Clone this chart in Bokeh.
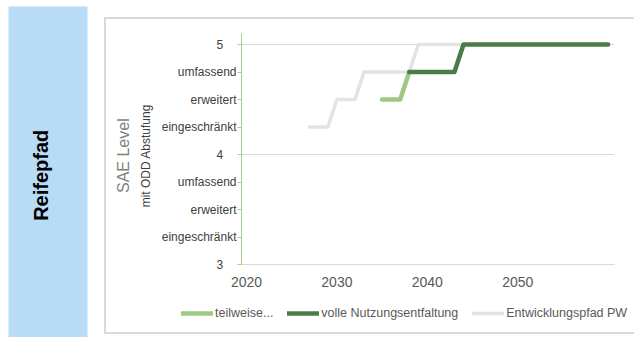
import math
from bokeh.plotting import figure
from bokeh.layouts import row, column
from bokeh.models import (FixedTicker, LinearAxis, Range1d, Legend, LegendItem, Spacer)
from bokeh.core.properties import value
from bokeh.embed import file_html
from bokeh.resources import INLINE

# ---- data ----
pw_years = [2027, 2029, 2030, 2032, 2033, 2038, 2039, 2044]
pw_level = [4.25, 4.25, 4.5, 4.5, 4.75, 4.75, 5, 5]
teil_years = [2035, 2037, 2038]
teil_level = [4.5, 4.5, 4.75]
voll_years = [2038, 2043, 2044, 2060]
voll_level = [4.75, 4.75, 5, 5]

x_ticks = [2020, 2030, 2040, 2050]
y_ticks = [3, 3.25, 3.5, 3.75, 4, 4.25, 4.5, 4.75, 5]
y_tick_labels = ["3", "eingeschränkt", "erweitert", "umfassend", "4",
                 "eingeschränkt", "erweitert", "umfassend", "5"]
major_levels = [3, 4, 5]
series_names = ["teilweise...", "volle Nutzungsentfaltung", "Entwicklungspfad PW"]
series_colors = ["#9fc982", "#4b7b48", "#e3e3e3"]
series_widths = [4.5, 4.5, 3.5]
panel_title = "Reifepfad"
y_title = "SAE Level"
y_subtitle = "mit ODD Abstufung"

FONT = "Liberation Sans"
x_start, x_end = 2019.45, 2060.7
NB = "\u00a0"
BORDER = "#d9d9d9"

# ---- left blue panel ----
PH = 331
pa = figure(width=96, height=PH, x_range=Range1d(0, 1), y_range=Range1d(0, 1),
            output_backend="svg", toolbar_location=None,
            x_axis_location=None, y_axis_location=None,
            min_border_left=0, min_border_right=17, min_border_top=0, min_border_bottom=0)
pa.frame_align = False
pa.outline_line_color = None
pa.background_fill_color = "#b8dcf6"
pa.border_fill_color = "white"
pa.grid.visible = False
pa.text(x=[0.41], y=[0.49], text=[panel_title], angle=math.pi / 2,
        text_align="center", text_baseline="middle", text_font=value(FONT),
        text_font_size="20px", text_font_style="bold", text_color="black")

# ---- chart ----
BW, BH = 528, 277
p = figure(width=BW, height=BH, x_range=Range1d(x_start, x_end), y_range=Range1d(3, 5.1),
           output_backend="svg", toolbar_location=None,
           min_border_left=135, min_border_right=20, min_border_top=14, min_border_bottom=32)
p.frame_align = False
p.outline_line_color = None
p.background_fill_color = "white"
p.border_fill_color = "white"

p.xgrid.visible = False
p.ygrid.ticker = FixedTicker(ticks=major_levels)
p.ygrid.grid_line_color = "#d9d9d9"
p.ygrid.grid_line_width = 1

xa = p.xaxis[0]
xa.ticker = FixedTicker(ticks=x_ticks)
xa.axis_line_color = "#d9d9d9"
xa.major_tick_line_color = None
xa.minor_tick_line_color = None
xa.major_label_standoff = 6
xa.major_label_text_font = FONT
xa.major_label_text_font_size = "14px"
xa.major_label_text_color = "#595959"

ya = p.yaxis[0]
ya.ticker = FixedTicker(ticks=y_ticks)
ya.major_label_overrides = {t: (l + NB * 4 if t in major_levels else l)
                            for t, l in zip(y_ticks, y_tick_labels)}
ya.axis_line_color = "#a9d18e"
ya.major_tick_line_color = "#a9d18e"
ya.major_tick_out = 4
ya.major_tick_in = 0
ya.minor_tick_line_color = None
ya.major_label_standoff = 1
ya.major_label_text_font = FONT
ya.major_label_text_font_size = "12px"
ya.major_label_text_color = "#404040"
ya.axis_label = y_subtitle + NB * 4
ya.axis_label_text_font = FONT
ya.axis_label_text_font_size = "12px"
ya.axis_label_text_font_style = "normal"
ya.axis_label_text_color = "#404040"
ya.axis_label_standoff = 6

ya2 = LinearAxis(ticker=FixedTicker(ticks=[]), axis_label=y_title + NB * 3,
                 axis_line_color=None, major_tick_line_color=None, minor_tick_line_color=None,
                 major_label_text_font_size="0px", major_tick_out=0, minor_tick_out=0,
                 axis_label_text_font=FONT, axis_label_text_font_size="16px",
                 axis_label_text_font_style="normal", axis_label_text_color="#7f7f7f",
                 axis_label_standoff=4)
p.add_layout(ya2, "left")

p.line(pw_years, pw_level, line_color=series_colors[2], line_width=series_widths[2],
       line_join="round", line_cap="round")
p.line(teil_years, teil_level, line_color=series_colors[0], line_width=series_widths[0],
       line_join="round", line_cap="round")
p.line(voll_years, voll_level, line_color=series_colors[1], line_width=series_widths[1],
       line_join="round", line_cap="round")

# ---- legend strip ----
LH = 36
pl = figure(width=BW, height=LH, x_range=Range1d(0, 1), y_range=Range1d(0, 1),
            output_backend="svg", toolbar_location=None,
            x_axis_location=None, y_axis_location=None,
            min_border_left=0, min_border_right=0, min_border_top=0, min_border_bottom=0)
pl.frame_align = False
pl.outline_line_color = None
pl.grid.visible = False
pl.background_fill_color = "white"
pl.border_fill_color = "white"
items = []
for name, col, lw in zip(series_names, series_colors, series_widths):
    # swatch-only renderer (a single off-range point draws nothing)
    r = pl.line(x=[-1], y=[-1], line_color=col, line_width=lw, line_cap="round")
    items.append(LegendItem(label=name, renderers=[r]))
legend = Legend(items=items, orientation="horizontal", location=(75, 12),
                glyph_width=32, glyph_height=14, label_standoff=2, spacing=14,
                padding=0, margin=0, border_line_color=None, background_fill_alpha=0,
                label_text_font=FONT, label_text_font_size="12.5px", label_text_color="#595959")
pl.add_layout(legend)

bg = {"background-color": BORDER}
vline = Spacer(width=2, height=BH + LH + 4, styles=bg)
htop = Spacer(width=BW, height=2, styles=bg)
hbot = Spacer(width=BW, height=2, styles=bg)

right = column(Spacer(width=BW + 2, height=11), row(vline, column(htop, p, pl, hbot)))
layout = column(Spacer(width=8 + 96 + 2 + BW, height=6),
                row(Spacer(width=8, height=PH), pa, right))
open("out.html", "w").write(file_html(layout, INLINE))
